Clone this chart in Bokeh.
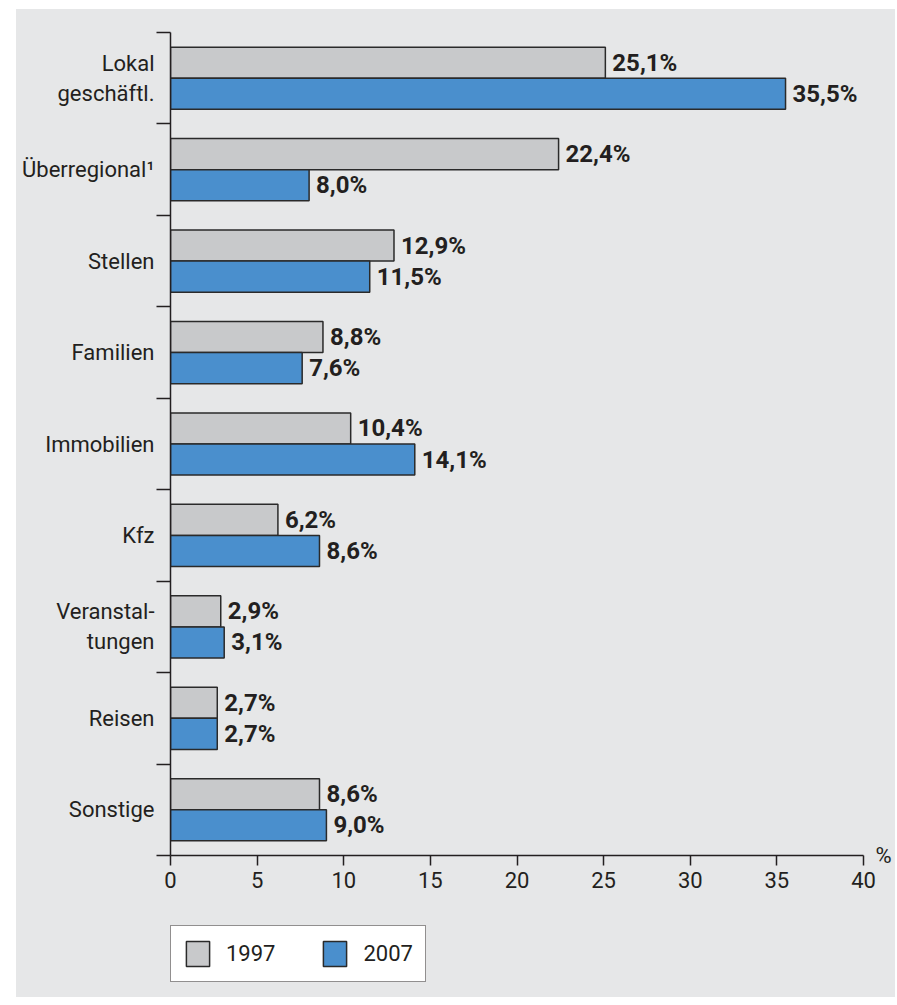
import numpy as np
from bokeh.plotting import figure
from bokeh.layouts import column
from bokeh.models import (ColumnDataSource, Range1d, FixedTicker, LabelSet, LinearAxis,
                          Legend, LegendItem)
from bokeh.core.properties import value
from bokeh.embed import file_html
from bokeh.resources import INLINE

categories = ["Lokal\ngeschäftl.", "Überregional¹", "Stellen", "Familien", "Immobilien",
              "Kfz", "Veranstal-\ntungen", "Reisen", "Sonstige"]
values_1997 = [25.1, 22.4, 12.9, 8.8, 10.4, 6.2, 2.9, 2.7, 8.6]
values_2007 = [35.5, 8.0, 11.5, 7.6, 14.1, 8.6, 3.1, 2.7, 9.0]
x_ticks = [0, 5, 10, 15, 20, 25, 30, 35, 40]
series_names = ["1997", "2007"]
unit = "%"

FONT = "Roboto"
TXT = "#231f20"
BG = "#e6e7e8"
GRAY = "#c8c9cb"
BLUE = "#4a8fcd"
EDGE = "#2a2a2a"

n = len(categories)
centers = n - np.arange(n) - 0.5
bar_h = 0.34
off = 0.17

def fmt(v):
    return f"{v:.1f}".replace(".", ",") + "%"

src97 = ColumnDataSource(dict(y=centers + off, v=values_1997, t=[fmt(v) for v in values_1997]))
src07 = ColumnDataSource(dict(y=centers - off, v=values_2007, t=[fmt(v) for v in values_2007]))

W = 879
p = figure(width=W, height=896, output_backend="svg", toolbar_location=None,
           x_range=Range1d(0, 40), y_range=Range1d(0, n),
           min_border_left=154, min_border_right=32, min_border_top=23, min_border_bottom=50)
p.background_fill_color = BG
p.border_fill_color = BG
p.outline_line_color = None
p.grid.visible = False

r97 = p.hbar(y="y", right="v", left=0, height=bar_h, source=src97,
             fill_color=GRAY, line_color=EDGE, line_width=1.5)
r07 = p.hbar(y="y", right="v", left=0, height=bar_h, source=src07,
             fill_color=BLUE, line_color=EDGE, line_width=1.5)

# x axis
xa = p.xaxis[0]
xa.ticker = FixedTicker(ticks=x_ticks)
xa.minor_tick_line_color = None
xa.major_tick_in = 0
xa.major_tick_out = 10
xa.axis_line_width = 1.5
xa.major_tick_line_width = 1.5
xa.axis_line_color = TXT
xa.major_tick_line_color = TXT
xa.major_label_text_font = FONT
xa.major_label_text_font_size = "22px"
xa.major_label_text_color = TXT
xa.major_label_standoff = 6

# y axis: ticks at category boundaries, no labels
ya = p.yaxis[0]
ya.ticker = FixedTicker(ticks=list(range(n + 1)))
ya.major_label_overrides = {i: "" for i in range(n + 1)}
ya.major_label_standoff = 0
ya.minor_tick_line_color = None
ya.major_tick_in = 0
ya.major_tick_out = 14
ya.axis_line_width = 1.5
ya.major_tick_line_width = 1.5
ya.axis_line_color = TXT
ya.major_tick_line_color = TXT

# category labels as a second left axis
ya2 = LinearAxis(ticker=FixedTicker(ticks=list(centers)),
                 major_label_overrides={float(c): lab for c, lab in zip(centers, categories)})
ya2.axis_line_color = None
ya2.major_tick_line_color = None
ya2.minor_tick_line_color = None
ya2.major_tick_in = 0
ya2.major_tick_out = 0
ya2.major_label_standoff = 2
ya2.major_label_text_font = FONT
ya2.major_label_text_font_size = "22px"
ya2.major_label_text_color = TXT
p.add_layout(ya2, "left")

# unit label on the right at the x-axis level
ya3 = LinearAxis(ticker=FixedTicker(ticks=[0]), major_label_overrides={0: unit})
ya3.axis_line_color = None
ya3.major_tick_line_color = None
ya3.minor_tick_line_color = None
ya3.major_tick_in = 0
ya3.major_tick_out = 0
ya3.major_label_standoff = 12
ya3.major_label_text_font = FONT
ya3.major_label_text_font_size = "22px"
ya3.major_label_text_color = TXT
p.add_layout(ya3, "right")

# value labels
for s in (src97, src07):
    p.add_layout(LabelSet(x="v", y="y", text="t", source=s, x_offset=7,
                          text_align="left", text_baseline="middle",
                          text_font=value(FONT), text_font_size="24px",
                          text_font_style="bold", text_color=TXT))

# legend in its own strip below (its renderers are hidden, only the legend shows)
pl = figure(width=W, height=92, output_backend="svg", toolbar_location=None,
            x_range=Range1d(0, 40), y_range=Range1d(0, n),
            x_axis_location=None, y_axis_location=None,
            min_border_left=0, min_border_right=0, min_border_top=0, min_border_bottom=0)
pl.grid.visible = False
pl.outline_line_color = None
pl.background_fill_color = BG
pl.border_fill_color = BG
l97 = pl.hbar(y="y", right="v", left=0, height=bar_h, source=src97,
              fill_color=GRAY, line_color=EDGE, line_width=1.5, visible=False)
l07 = pl.hbar(y="y", right="v", left=0, height=bar_h, source=src07,
              fill_color=BLUE, line_color=EDGE, line_width=1.5, visible=False)
legend = Legend(items=[LegendItem(label=series_names[0], renderers=[l97], index=0),
                       LegendItem(label=series_names[1], renderers=[l07], index=0)],
                orientation="horizontal", location=(0, 15),
                glyph_width=29, glyph_height=31, label_standoff=14, spacing=45,
                padding=12, margin=0, inactive_fill_alpha=0.0,
                label_text_font=FONT, label_text_font_size="22px", label_text_color=TXT,
                border_line_color=TXT, border_line_width=1.5,
                background_fill_color="white", background_fill_alpha=1.0)
pl.add_layout(legend, "center")

layout = column(p, pl, spacing=0)
layout.margin = (9, 0, 0, 16)
layout.styles = {"background-color": BG}

open("out.html", "w").write(file_html(layout, INLINE))
